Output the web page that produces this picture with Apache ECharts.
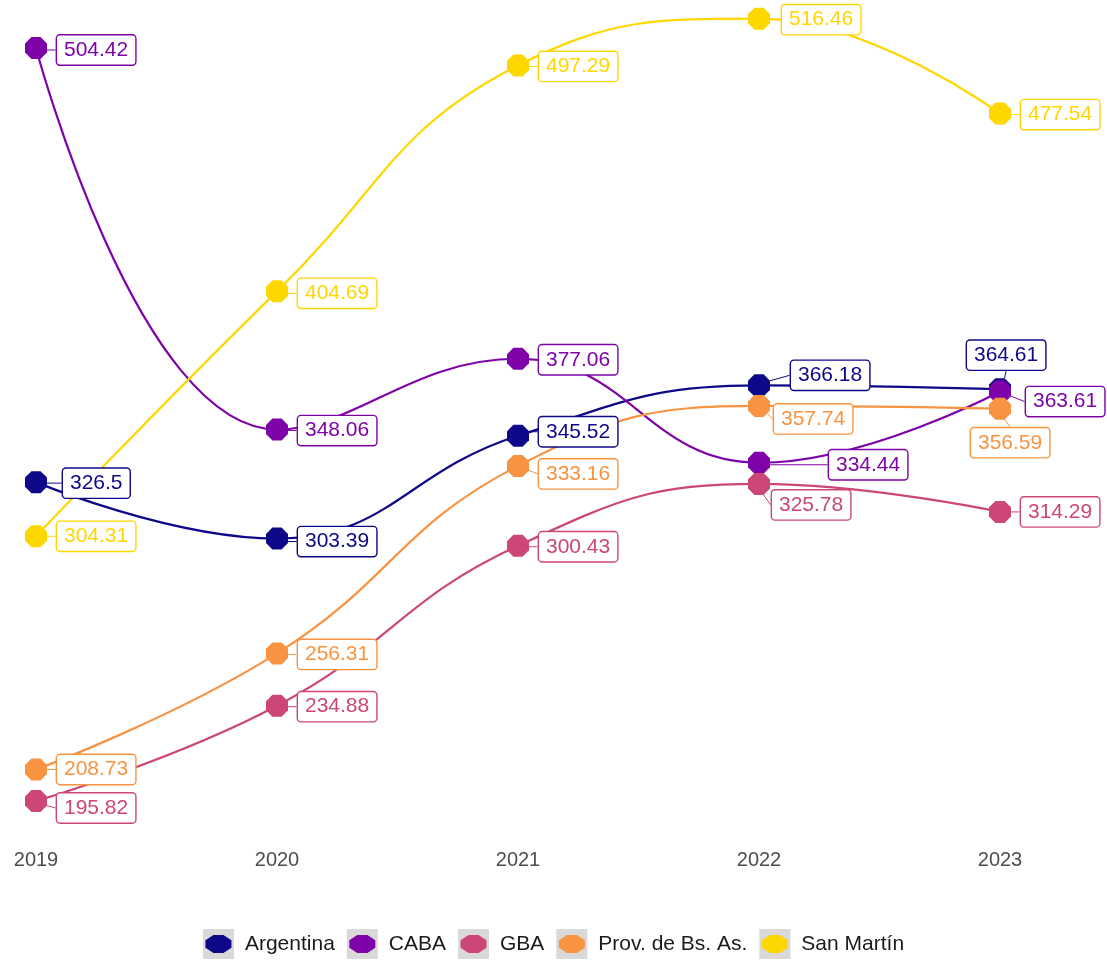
<!DOCTYPE html>
<html>
<head>
<meta charset="utf-8">
<script src="https://cdn.jsdelivr.net/npm/echarts@6/dist/echarts.min.js"></script>
<style>
html,body{margin:0;padding:0;background:#fff;}
#chart{width:1107px;height:961px;}
</style>
</head>
<body>
<div id="chart"></div>
<script>
// datos
var years = [2019, 2020, 2021, 2022, 2023];
var seriesNames = ['Argentina', 'CABA', 'GBA', 'Prov. de Bs. As.', 'San Martín'];
var argentina = [326.5, 303.39, 345.52, 366.18, 364.61];
var caba = [504.42, 348.06, 377.06, 334.44, 363.61];
var gba = [195.82, 234.88, 300.43, 325.78, 314.29];
var provBsAs = [208.73, 256.31, 333.16, 357.74, 356.59];
var sanMartin = [304.31, 404.69, 497.29, 516.46, 477.54];

var colores = ['#0D0887', '#7E03A8', '#CC4678', '#F89441', '#FFD700'];

// desplazamiento de etiquetas (estilo, tipo ggrepel)
var offsets = [
    [[6, 1], [0, 3], [0, -4], [11, -10], [-54, -34]],
    [[0, 2], [0, 1], [0, 1], [49, 2], [5, 10]],
    [[0, 7], [0, 1], [0, 1], [-8, 21], [0, 0]],
    [[0, 0], [0, 1], [0, 8], [-6, 13], [-50, 34]],
    [[0, 0], [0, 2], [0, 1], [2, 1], [0, 1]]
];

var valores = [argentina, caba, gba, provBsAs, sanMartin];

var octagono = 'path://M9.24,3.83L3.83,9.24L-3.83,9.24L-9.24,3.83L-9.24,-3.83L-3.83,-9.24L3.83,-9.24L9.24,-3.83Z';
var iconoCaja = 'path://M0,0L31,0L31,30L0,30Z M37,30';
var iconoOct = 'path://M0,0 M37,30 M28.5,18.8L20.5,24L10.5,24L2.5,18.8L2.5,11.2L10.5,6L20.5,6L28.5,11.2Z';

var series = [];
for (var i = 0; i < seriesNames.length; i++) {
    var d = [];
    for (var j = 0; j < years.length; j++) {
        d.push([years[j], valores[i][j]]);
    }
    series.push({
        name: seriesNames[i],
        type: 'line',
        smooth: 0.45,
        data: d,
        symbol: octagono,
        symbolSize: 22,
        showAllSymbol: true,
        lineStyle: {width: 2.2, color: colores[i]},
        itemStyle: {color: colores[i]},
        label: {
            show: true,
            position: 'right',
            distance: 10,
            formatter: function (p) { return String(p.value[1]); },
            color: colores[i],
            fontFamily: 'Liberation Sans, Arial',
            fontSize: 21,
            lineHeight: 22,
            backgroundColor: '#fff',
            borderColor: colores[i],
            borderWidth: 1.4,
            borderRadius: 3,
            padding: [4, 7, 3, 7]
        },
        labelLine: {show: true, lineStyle: {color: colores[i], width: 1}},
        labelLayout: (function (si) {
            return function (p) {
                var o = offsets[si][p.dataIndex];
                return {dx: o[0], dy: o[1]};
            };
        })(i),
        emphasis: {disabled: true},
        animation: false
    });
}

var leyendaData = seriesNames.map(function (n) {
    return {name: n, itemStyle: {color: '#D9D9D9'}};
});

var myChart = echarts.init(document.getElementById('chart'));
var option = {
    backgroundColor: '#fff',
    animation: false,
    grid: {left: 36, right: 107, top: 10, bottom: 121.4},
    xAxis: {
        type: 'value',
        min: 2019,
        max: 2023,
        interval: 1,
        axisLine: {show: false},
        axisTick: {show: false},
        splitLine: {show: false},
        axisLabel: {
            color: '#4D4D4D',
            fontFamily: 'Liberation Sans, Arial',
            fontSize: 20,
            margin: 11,
            formatter: function (v) { return String(v); }
        }
    },
    yAxis: {
        type: 'value',
        min: 180,
        max: 520,
        show: false,
        splitLine: {show: false}
    },
    legend: [
        {
            bottom: 2,
            left: 'center',
            padding: 0,
            icon: iconoCaja,
            itemWidth: 37,
            itemHeight: 30,
            itemGap: 12,
            selectedMode: false,
            data: leyendaData,
            textStyle: {color: 'rgba(0,0,0,0)', fontFamily: 'Liberation Sans, Arial', fontSize: 21}
        },
        {
            bottom: 2,
            left: 'center',
            padding: 0,
            icon: iconoOct,
            itemWidth: 37,
            itemHeight: 30,
            itemGap: 12,
            selectedMode: false,
            data: seriesNames,
            textStyle: {color: '#1A1A1A', fontFamily: 'Liberation Sans, Arial', fontSize: 21}
        }
    ],
    series: series
};
myChart.setOption(option);
</script>
</body>
</html>
